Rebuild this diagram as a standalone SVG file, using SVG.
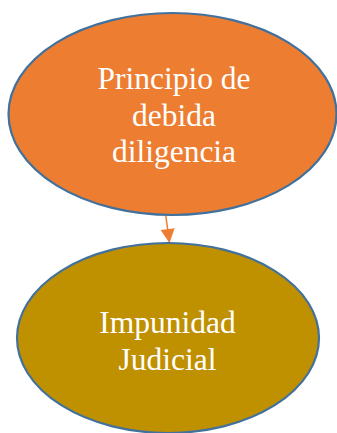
<svg xmlns="http://www.w3.org/2000/svg" width="337" height="433" viewBox="0 0 337 433">
<style>
.node{stroke:#41719C;stroke-width:2.2}
.lbl{font-family:"Liberation Serif","Times New Roman",serif;font-size:31.5px;fill:#FFFFFF;text-anchor:middle}
.conn{stroke:#ED7D31;stroke-width:1.5;fill:none}
</style>
<defs>
<marker id="arr" viewBox="0 0 10 10" refX="10" refY="5" markerWidth="15" markerHeight="14" markerUnits="userSpaceOnUse" orient="auto">
<path d="M0,0 L10,5 L0,10 Z" fill="#ED7D31"/>
</marker>
</defs>
<g id="connectors">
<line class="conn" x1="165.7" y1="215" x2="169.5" y2="243" marker-end="url(#arr)"/>
</g>
<g id="node-principio">
<ellipse class="node" cx="172.5" cy="114" rx="164" ry="101" fill="#ED7D31"/>
<text class="lbl" x="174" y="89">Principio de</text>
<text class="lbl" x="174" y="126">debida</text>
<text class="lbl" x="174" y="162">diligencia</text>
</g>
<g id="node-impunidad">
<ellipse class="node" cx="168" cy="338" rx="151" ry="95" fill="#BF9000"/>
<text class="lbl" x="167.5" y="333">Impunidad</text>
<text class="lbl" x="167.5" y="370">Judicial</text>
</g>
</svg>
